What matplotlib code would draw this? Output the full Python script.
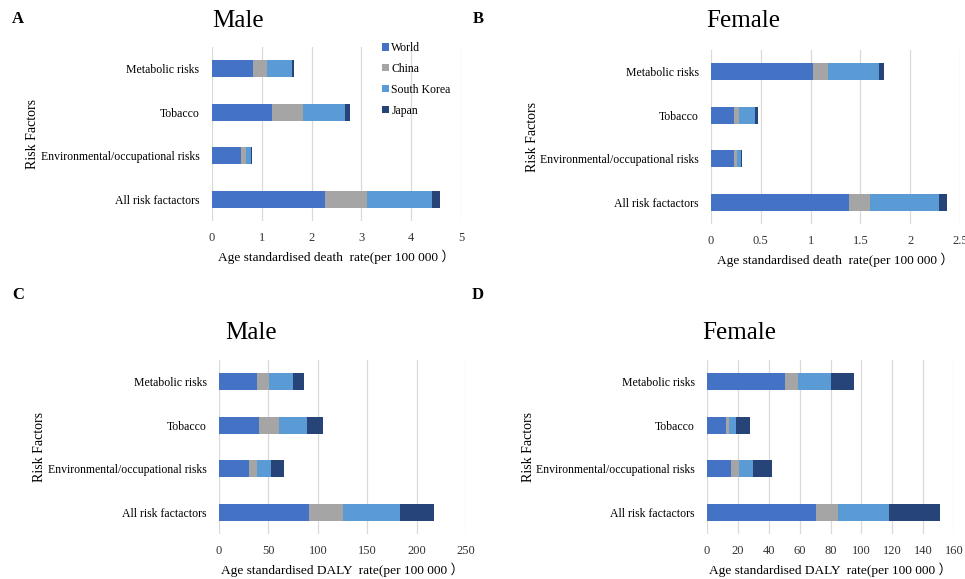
import matplotlib.pyplot as plt
import numpy as np

plt.rcParams['font.family'] = ['Liberation Serif', 'Noto Sans CJK SC', 'DejaVu Sans']

categories = ['All risk factactors', 'Environmental/occupational risks', 'Tobacco', 'Metabolic risks']
countries = ['World', 'China', 'South Korea', 'Japan']
colors = ['#4472C4', '#A5A5A5', '#5B9BD5', '#264478']

# segment values, order follows categories (bottom to top)
male_death = {
    'World': [2.26, 0.58, 1.20, 0.83],
    'China': [0.85, 0.10, 0.63, 0.27],
    'South Korea': [1.31, 0.10, 0.85, 0.50],
    'Japan': [0.16, 0.03, 0.10, 0.05],
}
female_death = {
    'World': [1.39, 0.23, 0.23, 1.02],
    'China': [0.21, 0.035, 0.055, 0.15],
    'South Korea': [0.69, 0.035, 0.16, 0.52],
    'Japan': [0.08, 0.015, 0.025, 0.05],
}
male_daly = {
    'World': [91.5, 30, 40, 38.5],
    'China': [34.5, 8, 20.5, 12.5],
    'South Korea': [57, 14.5, 28.5, 24],
    'Japan': [34.5, 13, 16, 11],
}
female_daly = {
    'World': [70.6, 15.5, 12, 50.3],
    'China': [14, 5, 2, 8.9],
    'South Korea': [33.2, 9.3, 4.8, 21.1],
    'Japan': [33.1, 12.1, 9.3, 14.7],
}

W, H = 965, 579
fig = plt.figure(figsize=(W / 100, H / 100), dpi=100)


def make_ax(left, top, right, bottom):
    return fig.add_axes([left / W, 1 - bottom / H, (right - left) / W, (bottom - top) / H])


def draw_panel(ax, data, xmax, xstep, xlabel):
    y = np.arange(len(categories))
    left = np.zeros(len(categories))
    for c, col in zip(countries, colors):
        vals = np.array(data[c])
        ax.barh(y, vals, left=left, height=0.4, color=col, label=c, zorder=3)
        left += vals
    ax.set_ylim(-0.5, 3.5)
    ax.set_xlim(0, xmax)
    ticks = np.arange(0, xmax + xstep / 2, xstep)
    ax.set_xticks(ticks)
    ax.set_xticklabels(['%g' % t for t in ticks])
    ax.set_yticks(y)
    ax.set_yticklabels(categories, fontsize=8.5)
    ax.tick_params(axis='both', length=0)
    ax.tick_params(axis='y', pad=9)
    ax.tick_params(axis='x', pad=8, labelsize=9, labelcolor='#333333')
    ax.grid(axis='x', color='#D9D9D9', linewidth=0.9, zorder=0)
    for s in ax.spines.values():
        s.set_visible(False)
    ax.set_xlabel(xlabel, fontsize=9.6, labelpad=4)
    ax.set_ylabel('Risk Factors', fontsize=10)


ax_a = make_ax(212, 47, 461, 221)
ax_b = make_ax(711, 50, 960, 224)
ax_c = make_ax(219, 360, 466, 534)
ax_d = make_ax(707, 360, 954, 534)

draw_panel(ax_a, male_death, 5, 1, 'Age standardised death  rate(per 100 000 ）')
draw_panel(ax_b, female_death, 2.5, 0.5, 'Age standardised death  rate(per 100 000 ）')
draw_panel(ax_c, male_daly, 250, 50, 'Age standardised DALY  rate(per 100 000 ）')
draw_panel(ax_d, female_daly, 160, 20, 'Age standardised DALY  rate(per 100 000 ）')

ax_a.yaxis.set_label_coords(-0.696, 0.5)
ax_b.yaxis.set_label_coords(-0.692, 0.5)
ax_c.yaxis.set_label_coords(-0.70, 0.5)
ax_d.yaxis.set_label_coords(-0.698, 0.5)

ax_a.legend(loc='upper left', bbox_to_anchor=(0.64, 1.09), frameon=False, fontsize=8.5,
            handlelength=0.6, handleheight=0.6, handletextpad=0.2, labelspacing=0.75)

fig.text(238 / W, 1 - 21 / H, 'Male', fontsize=18, ha='center', va='center')
fig.text(743 / W, 1 - 21 / H, 'Female', fontsize=18, ha='center', va='center')
fig.text(251 / W, 1 - 333 / H, 'Male', fontsize=18, ha='center', va='center')
fig.text(739 / W, 1 - 333 / H, 'Female', fontsize=18, ha='center', va='center')

for lab, x, yy in [('A', 18, 19), ('B', 478, 19), ('C', 18, 295), ('D', 478, 295)]:
    fig.text(x / W, 1 - yy / H, lab, fontsize=12, fontweight='bold', ha='center', va='center')

fig.savefig('out.png', dpi=100)
